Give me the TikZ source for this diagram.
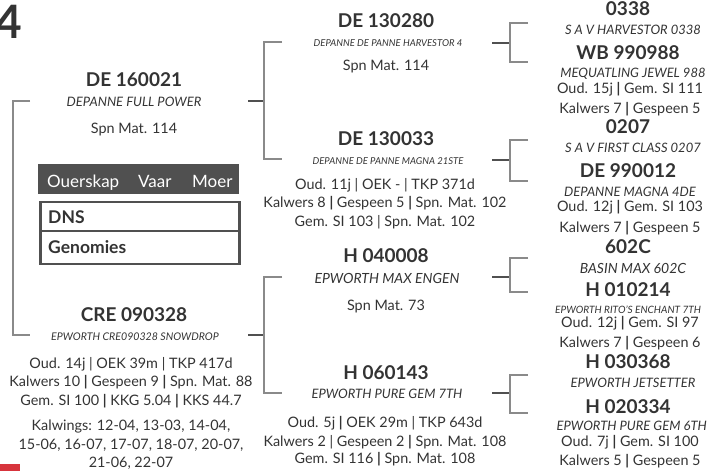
\documentclass[tikz,border=0pt]{standalone}
\usepackage{fontspec}
\setmainfont{Lato}
\definecolor{txt}{HTML}{333333}
\definecolor{hdr}{HTML}{505050}
\definecolor{stubc}{HTML}{505050}
\definecolor{brc}{HTML}{8A8A8A}
\definecolor{redm}{HTML}{D7343C}
\tikzset{
  lbl/.style={inner sep=0pt, anchor=base, text=txt},
  idf/.style={lbl, font=\bfseries\fontsize{19}{21}\selectfont},
  nmf/.style={lbl, font=\itshape\fontsize{13}{15}\selectfont},
  nmb/.style={lbl, font=\itshape\fontsize{14}{16}\selectfont},
  nms/.style={lbl, font=\itshape\fontsize{9.5}{11}\selectfont},
  nmm/.style={lbl, font=\itshape\fontsize{10.6}{12}\selectfont},
  inf/.style={lbl, font=\fontsize{14.4}{16}\selectfont},
  stub/.style={draw=stubc, line width=2.2pt},
  brk/.style={draw=brc, line width=1.5pt},
  tbltxt/.style={inner sep=0pt, anchor=base west, text=txt, font=\bfseries\fontsize{17.5}{19}\selectfont},
  hdrtxt/.style={inner sep=0pt, anchor=base west, text=white, font=\fontsize{17}{19}\selectfont},
}
\newcommand{\bb}{\textbf{|}}
\begin{document}
\begin{tikzpicture}[x=1pt,y=-1pt]
\useasboundingbox (0,0) rectangle (708,471);

% big number
\node[inner sep=0pt, anchor=base east, text=txt, font=\bfseries\fontsize{46}{46}\selectfont] (num) at (22,38) {4};

% ---------- generation 1 ----------
\node[idf] (g1a) at (134,86) {DE 160021};
\node[nmf] (g1an) at (134,106) {DEPANNE FULL POWER};
\node[inf] (g1ai) at (134,133) {Spn Mat. 114};

\node[idf] (g1b) at (134,321) {CRE 090328};
\node[nmm] (g1bn) at (135,340) {EPWORTH CRE090328 SNOWDROP};
\node[inf] (g1b1) at (131,368) {Oud. 14j | OEK 39m | TKP 417d};
\node[inf] (g1b2) at (131,386) {Kalwers 10 \bb{} Gespeen 9 \bb{} Spn. Mat. 88};
\node[inf] (g1b3) at (131,405) {Gem. SI 100 \bb{} KKG 5.04 \bb{} KKS 44.7};
\node[inf] (g1b4) at (131,430) {Kalwings: 12-04, 13-03, 14-04,};
\node[inf] (g1b5) at (131,449) {15-06, 16-07, 17-07, 18-07, 20-07,};
\node[inf] (g1b6) at (131,467) {21-06, 22-07};

% ---------- table ----------
\node[fill=hdr, minimum width=201pt, minimum height=30pt, inner sep=0pt, anchor=north west] (thead) at (38,164) {};
\node[hdrtxt] (tOu) at (47,187) {Ouerskap};
\node[hdrtxt] (tVa) at (138,187) {Vaar};
\node[hdrtxt] (tMo) at (192,187) {Moer};
\node[draw=hdr, line width=2.5pt, minimum width=199pt, minimum height=62pt, inner sep=0pt, anchor=north west] (tbox) at (39,200.5) {};
\draw[draw=hdr, line width=2pt] (tbox.west |- 0,231) -- (tbox.east |- 0,231);
\node[tbltxt] (tDNS) at (48,223) {DNS};
\node[tbltxt] (tGen) at (48,253) {Genomies};

% ---------- generation 2 ----------
\node[idf] (g2a) at (386,27) {DE 130280};
\node[nms] (g2an) at (388,46) {DEPANNE DE PANNE HARVESTOR 4};
\node[inf] (g2ai) at (386,70) {Spn Mat. 114};

\node[idf] (g2b) at (386,145) {DE 130033};
\node[nms] (g2bn) at (388,164) {DEPANNE DE PANNE MAGNA 21STE};
\node[inf] (g2b1) at (385,189) {Oud. 11j | OEK - | TKP 371d};
\node[inf] (g2b2) at (385,207) {Kalwers 8 \bb{} Gespeen 5 \bb{} Spn. Mat. 102};
\node[inf] (g2b3) at (385,226) {Gem. SI 103 | Spn. Mat. 102};

\node[idf] (g2c) at (386,262) {H 040008};
\node[nmb] (g2cn) at (387,283) {EPWORTH MAX ENGEN};
\node[inf] (g2ci) at (386,310) {Spn Mat. 73};

\node[idf] (g2d) at (386,379) {H 060143};
\node[nmf] (g2dn) at (387,398) {EPWORTH PURE GEM 7TH};
\node[inf] (g2d1) at (385,427) {Oud. 5j \bb{} OEK 29m | TKP 643d};
\node[inf] (g2d2) at (385,446) {Kalwers 2 | Gespeen 2 \bb{} Spn. Mat. 108};
\node[inf] (g2d3) at (385,463) {Gem. SI 116 \bb{} Spn. Mat. 108};

% ---------- generation 3 ----------
\node[idf] (g3a) at (628,16) {0338};
\node[nmf] (g3an) at (633,34) {S A V HARVESTOR 0338};
\node[idf] (g3b) at (628,59) {WB 990988};
\node[nmf] (g3bn) at (633,77) {MEQUATLING JEWEL 988};
\node[inf] (g3b1) at (630,93) {Oud. 15j \bb{} Gem. SI 111};
\node[inf] (g3b2) at (630,113) {Kalwers 7 \bb{} Gespeen 5};

\node[idf] (g3c) at (628,133) {0207};
\node[nmf] (g3cn) at (633,152) {S A V FIRST CLASS 0207};
\node[idf] (g3d) at (628,177) {DE 990012};
\node[nmf] (g3dn) at (630,196) {DEPANNE MAGNA 4DE};
\node[inf] (g3d1) at (630,211) {Oud. 12j \bb{} Gem. SI 103};
\node[inf] (g3d2) at (630,232) {Kalwers 7 \bb{} Gespeen 5};

\node[idf] (g3e) at (628,253) {602C};
\node[nmb] (g3en) at (633,273) {BASIN MAX 602C};
\node[idf] (g3f) at (628,296) {H 010214};
\node[lbl, font=\itshape\fontsize{10.1}{11}\selectfont, anchor=base west] (g3fn) at (555,313) {EPWORTH RITO'S ENCHANT 7TH};
\node[inf] (g3f1) at (630,327) {Oud. 12j \bb{} Gem. SI 97};
\node[inf] (g3f2) at (630,347) {Kalwers 7 \bb{} Gespeen 6};

\node[idf] (g3g) at (628,368) {H 030368};
\node[nmf] (g3gn) at (633,387) {EPWORTH JETSETTER};
\node[idf] (g3h) at (628,413) {H 020334};
\node[nmf, anchor=base east] (g3hn) at (707,430) {EPWORTH PURE GEM 6TH};
\node[inf] (g3h1) at (630,446) {Oud. 7j \bb{} Gem. SI 100};
\node[inf] (g3h2) at (630,465) {Kalwers 5 \bb{} Gespeen 5};

% ---------- connector coordinates ----------
\coordinate (L1t) at (30,101);  \coordinate (L1b) at (30,335);
\coordinate (s1a) at (248,101); \coordinate (k1a) at (264,101);
\coordinate (s1b) at (248,335); \coordinate (k1b) at (264,335);
\coordinate (B1t) at (282,42);  \coordinate (B1b) at (282,159);
\coordinate (B2t) at (282,277); \coordinate (B2b) at (282,393);
\coordinate (s2a) at (492,43);  \coordinate (k2a) at (510,43);
\coordinate (s2b) at (492,160); \coordinate (k2b) at (510,160);
\coordinate (s2c) at (492,277); \coordinate (k2c) at (510,277);
\coordinate (s2d) at (492,393); \coordinate (k2d) at (510,393);
\coordinate (C1t) at (528,23);  \coordinate (C1b) at (528,62);
\coordinate (C2t) at (528,140); \coordinate (C2b) at (528,181);
\coordinate (C3t) at (528,258); \coordinate (C3b) at (528,292);
\coordinate (C4t) at (528,375); \coordinate (C4b) at (528,413);

% outer bracket (gen1)
\draw[brk] (L1t) -- (L1t -| 13,0) -- (L1b -| 13,0) -- (L1b);

% stubs
\foreach \s/\k in {s1a/k1a, s1b/k1b, s2a/k2a, s2b/k2b, s2c/k2c, s2d/k2d}
  \draw[stub] (\s) -- (\k);

% brackets
\draw[brk] (B1t) -- (B1t -| k1a) -- (B1b -| k1a) -- (B1b);
\draw[brk] (B2t) -- (B2t -| k1b) -- (B2b -| k1b) -- (B2b);
\draw[brk] (C1t) -- (C1t -| k2a) -- (C1b -| k2a) -- (C1b);
\draw[brk] (C2t) -- (C2t -| k2b) -- (C2b -| k2b) -- (C2b);
\draw[brk] (C3t) -- (C3t -| k2c) -- (C3b -| k2c) -- (C3b);
\draw[brk] (C4t) -- (C4t -| k2d) -- (C4b -| k2d) -- (C4b);

% red marker
\fill[redm] (0,464) rectangle (20,471);
\end{tikzpicture}
\end{document}
